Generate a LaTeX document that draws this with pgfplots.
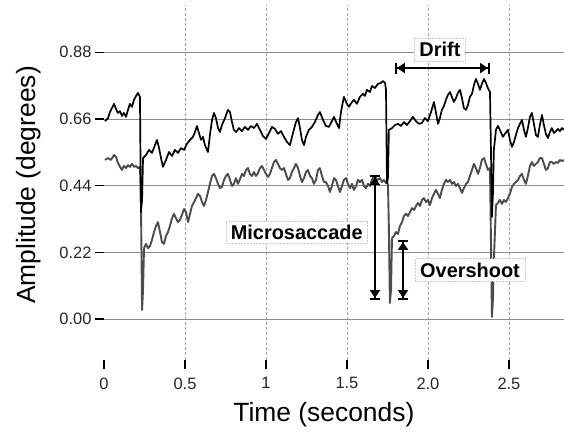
\documentclass[border=0pt]{standalone}
\usepackage{fontspec}
\setmainfont{Liberation Sans}
\usepackage{pgfplots}
\pgfplotsset{compat=1.18}
\usetikzlibrary{arrows.meta}

% top trace
\pgfplotstableread{
x y
0.006 0.653
0.025 0.663
0.037 0.683
0.049 0.696
0.062 0.710
0.074 0.693
0.086 0.680
0.099 0.686
0.111 0.670
0.123 0.680
0.136 0.667
0.148 0.690
0.160 0.710
0.173 0.700
0.185 0.723
0.198 0.736
0.210 0.746
0.222 0.733
0.228 0.353
0.235 0.393
0.241 0.531
0.259 0.541
0.278 0.558
0.296 0.548
0.315 0.574
0.327 0.591
0.340 0.564
0.352 0.531
0.364 0.502
0.383 0.525
0.401 0.551
0.420 0.538
0.438 0.558
0.457 0.548
0.475 0.564
0.494 0.558
0.512 0.578
0.531 0.591
0.549 0.601
0.562 0.617
0.574 0.637
0.586 0.614
0.599 0.591
0.611 0.601
0.623 0.574
0.642 0.551
0.654 0.607
0.667 0.657
0.679 0.680
0.691 0.663
0.704 0.630
0.716 0.617
0.728 0.640
0.747 0.663
0.765 0.690
0.778 0.683
0.790 0.650
0.802 0.624
0.815 0.617
0.833 0.630
0.852 0.620
0.870 0.634
0.889 0.624
0.907 0.637
0.926 0.630
0.944 0.644
0.963 0.624
0.981 0.604
1.000 0.594
1.019 0.614
1.037 0.634
1.056 0.627
1.074 0.611
1.093 0.620
1.111 0.601
1.130 0.584
1.148 0.574
1.167 0.614
1.185 0.650
1.198 0.663
1.210 0.630
1.222 0.591
1.235 0.574
1.247 0.601
1.265 0.624
1.284 0.634
1.302 0.650
1.321 0.673
1.333 0.683
1.352 0.657
1.370 0.637
1.389 0.634
1.407 0.653
1.420 0.667
1.438 0.644
1.451 0.630
1.463 0.683
1.481 0.733
1.500 0.710
1.512 0.700
1.531 0.716
1.543 0.723
1.562 0.710
1.580 0.733
1.599 0.743
1.611 0.736
1.623 0.756
1.642 0.749
1.654 0.769
1.673 0.762
1.691 0.776
1.710 0.779
1.722 0.785
1.735 0.779
1.741 0.756
1.747 0.449
1.753 0.465
1.759 0.624
1.778 0.630
1.796 0.640
1.815 0.644
1.833 0.637
1.852 0.650
1.870 0.640
1.889 0.653
1.907 0.667
1.926 0.653
1.944 0.644
1.963 0.647
1.981 0.663
2.000 0.653
2.019 0.683
2.037 0.716
2.049 0.683
2.062 0.644
2.074 0.663
2.086 0.690
2.099 0.703
2.111 0.723
2.123 0.739
2.136 0.749
2.148 0.733
2.160 0.716
2.173 0.729
2.185 0.746
2.198 0.756
2.210 0.729
2.222 0.696
2.235 0.690
2.247 0.706
2.259 0.733
2.272 0.743
2.284 0.772
2.296 0.792
2.309 0.776
2.321 0.756
2.333 0.776
2.346 0.792
2.358 0.779
2.370 0.762
2.383 0.749
2.389 0.558
2.395 0.337
2.401 0.409
2.407 0.558
2.420 0.624
2.432 0.637
2.444 0.624
2.463 0.601
2.475 0.611
2.494 0.624
2.506 0.591
2.519 0.568
2.531 0.584
2.543 0.607
2.556 0.630
2.568 0.644
2.580 0.657
2.593 0.624
2.605 0.601
2.617 0.630
2.630 0.667
2.642 0.680
2.654 0.644
2.667 0.607
2.679 0.601
2.691 0.640
2.704 0.673
2.716 0.640
2.728 0.611
2.741 0.597
2.753 0.617
2.765 0.630
2.778 0.614
2.790 0.620
2.802 0.627
2.815 0.620
2.827 0.630
2.840 0.624
}\toptrace

% bottom trace
\pgfplotstableread{
x y
0.006 0.525
0.025 0.531
0.043 0.525
0.062 0.541
0.074 0.535
0.086 0.515
0.099 0.502
0.111 0.492
0.123 0.505
0.136 0.498
0.148 0.508
0.160 0.502
0.173 0.512
0.185 0.502
0.198 0.505
0.210 0.498
0.222 0.502
0.228 0.393
0.235 0.030
0.241 0.096
0.247 0.234
0.259 0.248
0.272 0.234
0.284 0.241
0.296 0.261
0.309 0.287
0.321 0.307
0.333 0.320
0.346 0.287
0.358 0.254
0.370 0.248
0.383 0.274
0.395 0.287
0.407 0.307
0.420 0.333
0.432 0.347
0.444 0.333
0.457 0.320
0.469 0.327
0.481 0.343
0.494 0.363
0.506 0.353
0.519 0.320
0.531 0.347
0.543 0.373
0.556 0.386
0.568 0.399
0.580 0.413
0.593 0.406
0.605 0.386
0.617 0.373
0.630 0.393
0.642 0.419
0.654 0.446
0.667 0.472
0.679 0.479
0.691 0.465
0.704 0.446
0.716 0.432
0.728 0.436
0.741 0.459
0.753 0.472
0.765 0.479
0.778 0.459
0.790 0.439
0.802 0.446
0.815 0.465
0.827 0.446
0.840 0.462
0.852 0.479
0.864 0.472
0.877 0.492
0.889 0.498
0.901 0.479
0.914 0.472
0.926 0.485
0.938 0.472
0.951 0.482
0.963 0.498
0.975 0.505
0.988 0.492
1.000 0.479
1.012 0.469
1.025 0.479
1.037 0.498
1.049 0.518
1.062 0.525
1.074 0.512
1.086 0.498
1.099 0.492
1.111 0.498
1.123 0.479
1.136 0.459
1.148 0.465
1.160 0.485
1.173 0.498
1.185 0.512
1.198 0.498
1.210 0.472
1.222 0.452
1.235 0.465
1.247 0.485
1.259 0.492
1.272 0.472
1.284 0.465
1.296 0.446
1.309 0.459
1.321 0.492
1.333 0.498
1.346 0.472
1.358 0.452
1.370 0.452
1.383 0.439
1.395 0.419
1.407 0.439
1.420 0.465
1.432 0.459
1.444 0.439
1.457 0.419
1.469 0.439
1.481 0.459
1.494 0.465
1.506 0.446
1.519 0.432
1.531 0.446
1.543 0.426
1.556 0.439
1.568 0.459
1.580 0.452
1.593 0.459
1.605 0.439
1.617 0.432
1.630 0.446
1.642 0.439
1.654 0.459
1.667 0.472
1.679 0.465
1.691 0.459
1.704 0.465
1.716 0.452
1.728 0.459
1.741 0.449
1.753 0.446
1.759 0.294
1.765 0.053
1.772 0.096
1.778 0.267
1.790 0.274
1.802 0.287
1.815 0.281
1.827 0.307
1.840 0.320
1.852 0.340
1.864 0.347
1.877 0.340
1.889 0.353
1.901 0.366
1.914 0.360
1.926 0.373
1.938 0.383
1.951 0.373
1.963 0.393
1.975 0.399
1.988 0.386
2.000 0.393
2.012 0.376
2.025 0.399
2.037 0.413
2.049 0.426
2.062 0.413
2.074 0.399
2.086 0.426
2.099 0.446
2.111 0.459
2.123 0.452
2.136 0.459
2.148 0.446
2.160 0.452
2.173 0.439
2.185 0.446
2.198 0.432
2.210 0.416
2.222 0.432
2.235 0.446
2.247 0.452
2.259 0.472
2.272 0.492
2.284 0.512
2.296 0.498
2.309 0.479
2.321 0.498
2.333 0.525
2.346 0.531
2.358 0.512
2.370 0.492
2.383 0.498
2.389 0.261
2.395 0.007
2.401 0.063
2.407 0.195
2.420 0.376
2.432 0.383
2.444 0.393
2.457 0.380
2.469 0.393
2.481 0.386
2.494 0.399
2.506 0.413
2.519 0.436
2.531 0.446
2.543 0.452
2.556 0.459
2.568 0.472
2.580 0.479
2.593 0.459
2.605 0.446
2.617 0.472
2.630 0.505
2.642 0.518
2.654 0.505
2.667 0.512
2.679 0.518
2.691 0.531
2.704 0.531
2.716 0.512
2.728 0.492
2.741 0.498
2.753 0.518
2.765 0.518
2.778 0.512
2.790 0.518
2.802 0.515
2.815 0.525
2.827 0.521
2.840 0.525
}\bottomtrace

\tikzset{
  annot/.style={draw=gray!40, dash pattern=on 2pt off 1pt, line width=0.5pt,
    fill=white, inner xsep=5bp, inner ysep=4bp,
    font=\fontsize{20}{20}\selectfont\bfseries},
  dim/.style={line width=2pt,
    {Bar[width=11pt,line width=2pt]Triangle[length=8pt,width=10pt]}-{Triangle[length=8pt,width=10pt]Bar[width=11pt,line width=2pt]}}
}

\begin{document}
\begin{tikzpicture}
\path[use as bounding box] (-104bp,-74bp) rectangle (460bp,360bp);
\begin{axis}[
    at={(0,0)}, anchor=south west,
    scale only axis,
    width=460bp, height=355bp,
    xmin=0, xmax=2.84,
    ymin=-0.135, ymax=1.036,
    axis line style={draw=none},
    tick align=outside,
    major tick length=9bp,
    tick style={black, line width=1.4pt},
    xtick={0,0.5,1,1.5,2,2.5},
    xticklabels={0,0.5,1,1.5,2.0,2.5},
    minor xtick={0.5,1,1.5,2,2.5},
    minor tick length=0pt,
    xtick pos=bottom,
    ytick={0,0.22,0.44,0.66,0.88},
    ytick pos=left,
    xmajorgrids=false,
    xminorgrids=true,
    ymajorgrids=true,
    minor grid style={gray!70, dash pattern=on 3pt off 2pt, line width=0.5pt},
    major grid style={gray!90, line width=0.8pt},
    tick label style={font=\fontsize{16.5}{16.5}\selectfont, text=black!85},
    yticklabel style={/pgf/number format/.cd, fixed, fixed zerofill, precision=2,
      assume math mode=true},
    xticklabel style={yshift=-5bp},
    xlabel={Time (seconds)},
    ylabel={Amplitude (degrees)},
    label style={font=\fontsize{26.5}{26.5}\selectfont},
    xlabel style={at={(axis description cs:0.478,-0.155)}, anchor=center},
    ylabel style={at={(axis description cs:-0.163,0.493)}, anchor=center, rotate=0},
    clip=false,
]
\addplot[black!70, line width=1.9pt, line join=round] table {\bottomtrace};
\addplot[black, line width=1.7pt, line join=round] table {\toptrace};

\node[annot] at (axis cs:2.074,0.888) {Drift};
\draw[dim] (axis cs:1.796,0.828) -- (axis cs:2.383,0.828);
\node[annot] at (axis cs:1.19,0.287) {Microsaccade};
\draw[dim] (axis cs:1.673,0.475) -- (axis cs:1.673,0.063);
\draw[dim] (axis cs:1.846,0.261) -- (axis cs:1.846,0.063);
\node[annot] at (axis cs:2.26,0.162) {Overshoot};
\end{axis}
\end{tikzpicture}
\end{document}
